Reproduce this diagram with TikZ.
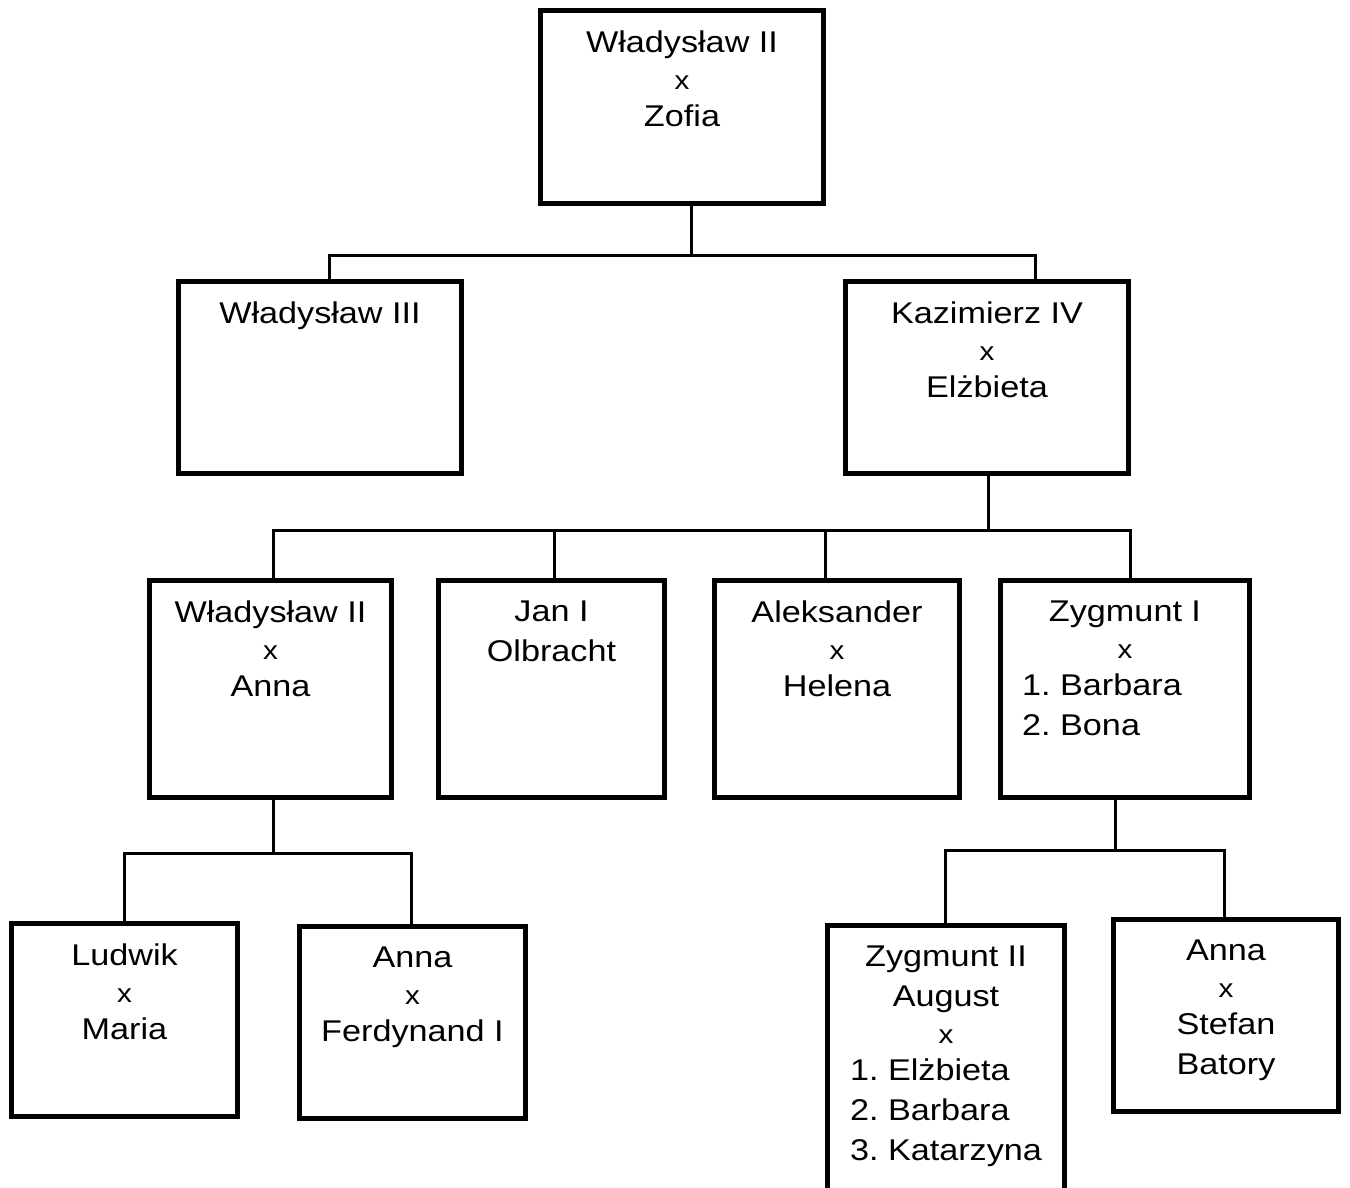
\documentclass[tikz,border=0pt]{standalone}
\usepackage{fontspec}
\setmainfont{Liberation Sans}[FakeStretch=1.14]
\usetikzlibrary{positioning}
\frenchspacing

\newcommand{\wed}{{\fontsize{26}{26}\selectfont x}}
\newcommand{\wives}[1]{{\begin{tabular}[t]{@{}l@{}}#1\end{tabular}}}

\tikzset{
  person/.style={draw, line width=5pt, fill=white, inner sep=0pt},
  names/.style={inner sep=0pt, align=center, font=\fontsize{30}{40}\selectfont},
  link/.style={line width=3pt},
}

\begin{document}
\begin{tikzpicture}[x=1pt,y=-1pt]
  \path[use as bounding box, fill=white] (0,0) rectangle (1350,1188);
  \clip (0,0) rectangle (1350,1188);

  \foreach \id/\cx/\cy/\w/\h in {top/682/107/283/193, w3/320/377.5/283/192,
      k4/987/377.5/283/192, w2a/270.5/689/242/217, jan/551.5/689/226/217,
      alek/837/689/245/217, zyg/1125/689/249/217, lud/124.5/1020/226/193,
      annaf/412.5/1022.5/226/192, zyg2/946/1095.5/237/340, annas/1226/1015.5/225/192}
    \node[person, minimum width=\w, minimum height=\h] (\id) at (\cx,\cy) {};

  \node[names, below=22.5pt of top.north] (top-t) {Władysław II\\[-3pt]\wed\\[-3pt]Zofia};
  \node[names, below=22.5pt of w3.north] (w3-t) {Władysław III};
  \node[names, below=22.5pt of k4.north] (k4-t) {Kazimierz IV\\[-3pt]\wed\\[-3pt]Elżbieta};
  \node[names, below=22.5pt of w2a.north] (w2a-t) {Władysław II\\[-3pt]\wed\\[-3pt]Anna};
  \node[names, below=22.5pt of jan.north] (jan-t) {Jan I\\Olbracht};
  \node[names, below=22.5pt of alek.north] (alek-t) {Aleksander\\[-3pt]\wed\\[-3pt]Helena};
  \node[names, below=22.5pt of zyg.north] (zyg-t)
    {Zygmunt I\\[-3pt]\wed\\[-3pt]\wives{1. Barbara\\2. Bona}\hspace*{46pt}};
  \node[names, below=22.5pt of lud.north] (lud-t) {Ludwik\\[-3pt]\wed\\[-3pt]Maria};
  \node[names, below=22.5pt of annaf.north] (annaf-t) {Anna\\[-3pt]\wed\\[-3pt]Ferdynand I};
  \node[names, below=22.5pt of zyg2.north] (zyg2-t)
    {Zygmunt II\\August\\[-3pt]\wed\\[-3pt]\wives{1. Elżbieta\\2. Barbara\\3. Katarzyna}};
  \node[names, below=22.5pt of annas.north] (annas-t) {Anna\\[-3pt]\wed\\[-3pt]Stefan\\Batory};

  \draw[link] ([xshift=9pt]top.south) -- ++(0,49) coordinate (j-top);
  \foreach \kid/\dx in {w3/9, k4/48}
    \draw[link] (j-top) -| ([xshift=\dx pt]\kid.north);

  \draw[link] ([xshift=1pt]k4.south) -- ++(0,54) coordinate (j-k4);
  \foreach \kid/\dx in {w2a/2.5, jan/2.5, alek/-12, zyg/5}
    \draw[link] (j-k4) -| ([xshift=\dx pt]\kid.north);

  \draw[link] ([xshift=2.5pt]w2a.south) -- ++(0,53) coordinate (j-w2a);
  \foreach \kid/\dx in {lud/-0.5, annaf/-1.5}
    \draw[link] (j-w2a) -| ([xshift=\dx pt]\kid.north);

  \draw[link] ([xshift=-10pt]zyg.south) -- ++(0,50) coordinate (j-zyg);
  \foreach \kid/\dx in {zyg2/-1, annas/-2}
    \draw[link] (j-zyg) -| ([xshift=\dx pt]\kid.north);
\end{tikzpicture}
\end{document}
